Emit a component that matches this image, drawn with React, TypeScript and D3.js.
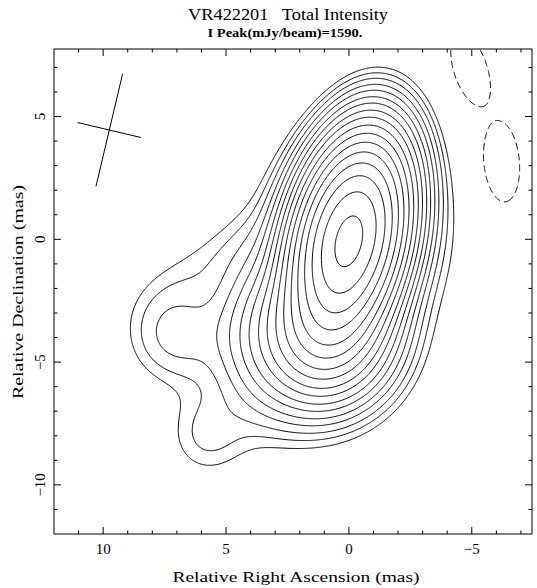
import React from "react";
import * as d3 from "d3";

// ---- text ----
const titleText = "VR422201   Total Intensity";
const subtitleText = "I Peak(mJy/beam)=1590.";
const xLabelText = "Relative Right Ascension (mas)";
const yLabelText = "Relative Declination (mas)";

// ---- axes ----
const xDomain = [12, -7.45];
const yDomain = [-12, 7.75];
const xMajorTicks = [10, 5, 0, -5];
const yMajorTicks = [5, 0, -5, -10];
const xMinorTicks = [11, 9, 8, 7, 6, 4, 3, 2, 1, -1, -2, -3, -4, -6, -7];
const yMinorTicks = [7, 6, 4, 3, 2, 1, -1, -2, -3, -4, -6, -7, -8, -9, -11];

// ---- contour levels (% of peak) ----
const peakFlux = 1590;
const levelPercents = [0.35, 0.5, 0.7, 1, 1.4, 2, 2.8, 4, 5.6, 8, 11.3, 16, 22.6, 32, 45.2, 64, 89.6];
const negativeLevelPercents = [-0.35];

// ---- source model components (mas, mJy/beam, FWHM mas, PA deg) ----
const compName = ["core", "westHalo", "ne", "bridge", "eLobe", "seRidge", "s1", "s2", "sBlob", "neg1", "neg2"];
const compX = [0.0, -1.8, 2.5, 6.0, 7.1, 3.3, 1.0, 1.5, 5.8, -4.95, -6.2];
const compY = [-0.05, 0.0, 1.8, -0.9, -3.9, -3.8, -3.9, -4.6, -8.0, 6.9, 3.15];
const compAmp = [1590, 10, 5.5, 4.5, 12, 20, 150, 17, 8, -30, -30];
const compMaj = [5.0, 6.5, 5.5, 5.0, 3.3, 5.0, 3.4, 5.2, 3.0, 2.0, 2.15];
const compMin = [2.55, 4.5, 3.0, 2.4, 3.2, 3.0, 3.4, 5.2, 2.8, 0.88, 0.95];
const compPA = [-13, 0, -25, 120, 0, 0, 0, 0, 0, 18, 5];

// ---- restoring beam ----
const beamX = [9.75];
const beamY = [4.45];
const beamMaj = [4.71];
const beamMin = [2.65];
const beamPA = [-13.3];

const W = 537;
const H = 588;
const left = 54, right = 532, top = 49, bottom = 534;

function buildField() {
  const step = 0.04;
  const gx0 = 13, gx1 = -8.5, gy0 = 8.8, gy1 = -13;
  const n = Math.round((gx0 - gx1) / step) + 1;
  const m = Math.round((gy0 - gy1) / step) + 1;
  const values = new Float64Array(n * m);
  const k = 4 * Math.LN2;
  const comps = compName.map((_, i) => {
    const t = (compPA[i] * Math.PI) / 180;
    return { cx: compX[i], cy: compY[i], a: compAmp[i], s: Math.sin(t), c: Math.cos(t), maj: compMaj[i], min: compMin[i] };
  });
  for (let j = 0; j < m; j++) {
    const y = gy0 - j * step;
    for (let i = 0; i < n; i++) {
      const x = gx0 - i * step;
      let v = 0;
      for (const p of comps) {
        const dx = x - p.cx, dy = y - p.cy;
        const along = dx * p.s + dy * p.c;
        const across = dx * p.c - dy * p.s;
        v += p.a * Math.exp(-k * ((along * along) / (p.maj * p.maj) + (across * across) / (p.min * p.min)));
      }
      values[j * n + i] = v;
    }
  }
  return { values, n, m, step, gx0, gy0 };
}

export default function App() {
  const xs = d3.scaleLinear().domain(xDomain).range([left, right]);
  const ys = d3.scaleLinear().domain(yDomain).range([bottom, top]);

  const { posPaths, negPaths } = React.useMemo(() => {
    const f = buildField();
    const proj = d3.geoTransform({
      point(px: number, py: number) {
        const xm = f.gx0 - (px - 0.5) * f.step;
        const ym = f.gy0 - (py - 0.5) * f.step;
        (this as any).stream.point(xs(xm), ys(ym));
      },
    });
    const path = d3.geoPath(proj);
    const gen = d3.contours().size([f.n, f.m]).smooth(true);
    const posVals = Array.from(f.values);
    const pos = levelPercents.map((p) => path(gen.contour(posVals as any, (p / 100) * peakFlux) as any) || "");
    const negVals = Array.from(f.values, (v) => -v);
    const neg = negativeLevelPercents.map((p) => path(gen.contour(negVals as any, (-p / 100) * peakFlux) as any) || "");
    return { posPaths: pos, negPaths: neg };
  }, []);

  const serif = "'Liberation Serif', 'DejaVu Serif', serif";
  const majLen = 7, minLen = 3.5;

  const beamLines = beamX.map((bx, i) => {
    const t = (beamPA[i] * Math.PI) / 180;
    const hM = beamMaj[i] / 2, hm = beamMin[i] / 2;
    const majA = [bx + hM * Math.sin(t), beamY[i] + hM * Math.cos(t)];
    const majB = [bx - hM * Math.sin(t), beamY[i] - hM * Math.cos(t)];
    const minA = [bx + hm * Math.cos(t), beamY[i] - hm * Math.sin(t)];
    const minB = [bx - hm * Math.cos(t), beamY[i] + hm * Math.sin(t)];
    return { majA, majB, minA, minB };
  });

  const fmt = (t: number) => (t < 0 ? "\u2212" + Math.abs(t) : String(t));

  return (
    <svg width={W} height={H} style={{ position: "absolute", left: 0, top: 0, background: "#fff" }}>
      <defs>
        <clipPath id="frameClip">
          <rect x={left} y={top} width={right - left} height={bottom - top} />
        </clipPath>
      </defs>
      <rect x={0} y={0} width={W} height={H} fill="#fff" />
      <text x={288} y={20} textAnchor="middle" fontFamily={serif} fontSize={16} style={{ whiteSpace: "pre" }} textLength={200} lengthAdjust="spacingAndGlyphs">
        {titleText}
      </text>
      <text x={285} y={37} textAnchor="middle" fontFamily={serif} fontSize={11.5} fontWeight="bold" textLength={155} lengthAdjust="spacingAndGlyphs">
        {subtitleText}
      </text>

      <g clipPath="url(#frameClip)" fill="none" stroke="#000" strokeWidth={1}>
        {posPaths.map((d, i) => (
          <path key={"p" + i} d={d} />
        ))}
        {negPaths.map((d, i) => (
          <path key={"n" + i} d={d} strokeDasharray="7,4" />
        ))}
      </g>

      {beamLines.map((b, i) => (
        <g key={"b" + i} stroke="#000" strokeWidth={1}>
          <line x1={xs(b.majA[0])} y1={ys(b.majA[1])} x2={xs(b.majB[0])} y2={ys(b.majB[1])} />
          <line x1={xs(b.minA[0])} y1={ys(b.minA[1])} x2={xs(b.minB[0])} y2={ys(b.minB[1])} />
        </g>
      ))}

      <rect x={left} y={top} width={right - left} height={bottom - top} fill="none" stroke="#000" strokeWidth={1} />

      <g stroke="#000" strokeWidth={1}>
        {xMajorTicks.concat(xMinorTicks).map((t, i) => {
          const L = xMajorTicks.includes(t) ? majLen : minLen;
          return (
            <g key={"xt" + i}>
              <line x1={xs(t)} x2={xs(t)} y1={bottom} y2={bottom - L} />
              <line x1={xs(t)} x2={xs(t)} y1={top} y2={top + L} />
            </g>
          );
        })}
        {yMajorTicks.concat(yMinorTicks).map((t, i) => {
          const L = yMajorTicks.includes(t) ? majLen : minLen;
          return (
            <g key={"yt" + i}>
              <line x1={left} x2={left + L} y1={ys(t)} y2={ys(t)} />
              <line x1={right} x2={right - L} y1={ys(t)} y2={ys(t)} />
            </g>
          );
        })}
      </g>

      {xMajorTicks.map((t) => (
        <text key={"xl" + t} x={xs(t)} y={554} textAnchor="middle" fontFamily={serif} fontSize={15}>
          {fmt(t)}
        </text>
      ))}
      {yMajorTicks.map((t) => (
        <text key={"yl" + t} transform={`translate(45,${ys(t)}) rotate(-90)`} textAnchor="middle" fontFamily={serif} fontSize={15}>
          {fmt(t)}
        </text>
      ))}

      <text x={296} y={582} textAnchor="middle" fontFamily={serif} fontSize={15.5} textLength={247} lengthAdjust="spacingAndGlyphs">
        {xLabelText}
      </text>
      <text transform={`translate(23,292) rotate(-90)`} textAnchor="middle" fontFamily={serif} fontSize={15.5} textLength={214} lengthAdjust="spacingAndGlyphs">
        {yLabelText}
      </text>
    </svg>
  );
}
